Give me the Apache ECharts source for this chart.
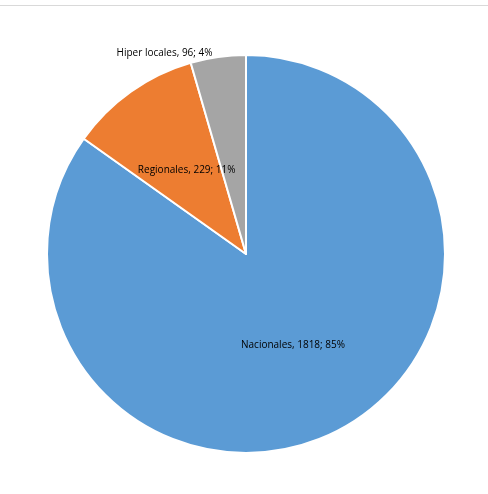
<!DOCTYPE html>
<html style="height: 100%">
<head>
<meta charset="utf-8">
<script src="https://cdn.jsdelivr.net/npm/echarts@6/dist/echarts.min.js"></script>
</head>
<body style="height: 100%; margin: 0; background: #fff">
<div style="position:absolute;left:0;right:0;top:5px;border-top:1px solid #d9d9d9"></div>
<div id="container" style="height: 100%"></div>
<script>
var categories = ['Nacionales', 'Regionales', 'Hiper locales'];
var values = [1818, 229, 96];
var percents = ['85%', '11%', '4%'];
var colors = ['#5b9bd5', '#ed7d31', '#a5a5a5'];

var chart = echarts.init(document.getElementById('container'));
var data = categories.map(function (c, i) {
  var item = {
    name: c,
    value: values[i],
    itemStyle: { color: colors[i] },
    label: { position: 'inside' }
  };
  if (i === 2) {
    item.label = { position: 'outside', distance: 4 };
    item.labelLine = { show: false, length: 4, length2: 0 };
  }
  return item;
});
chart.setOption({
  animation: false,
  series: [{
    type: 'pie',
    center: [246, 254],
    radius: 199,
    startAngle: 90,
    clockwise: true,
    itemStyle: { borderColor: '#fff', borderWidth: 2 },
    label: {
      show: true,
      color: '#000',
      fontSize: 10,
      fontFamily: 'Open Sans',
      formatter: function (p) {
        return p.name + ', ' + p.value + '; ' + percents[p.dataIndex];
      }
    },
    labelLine: { show: false },
    data: data
  }]
});
</script>
</body>
</html>
